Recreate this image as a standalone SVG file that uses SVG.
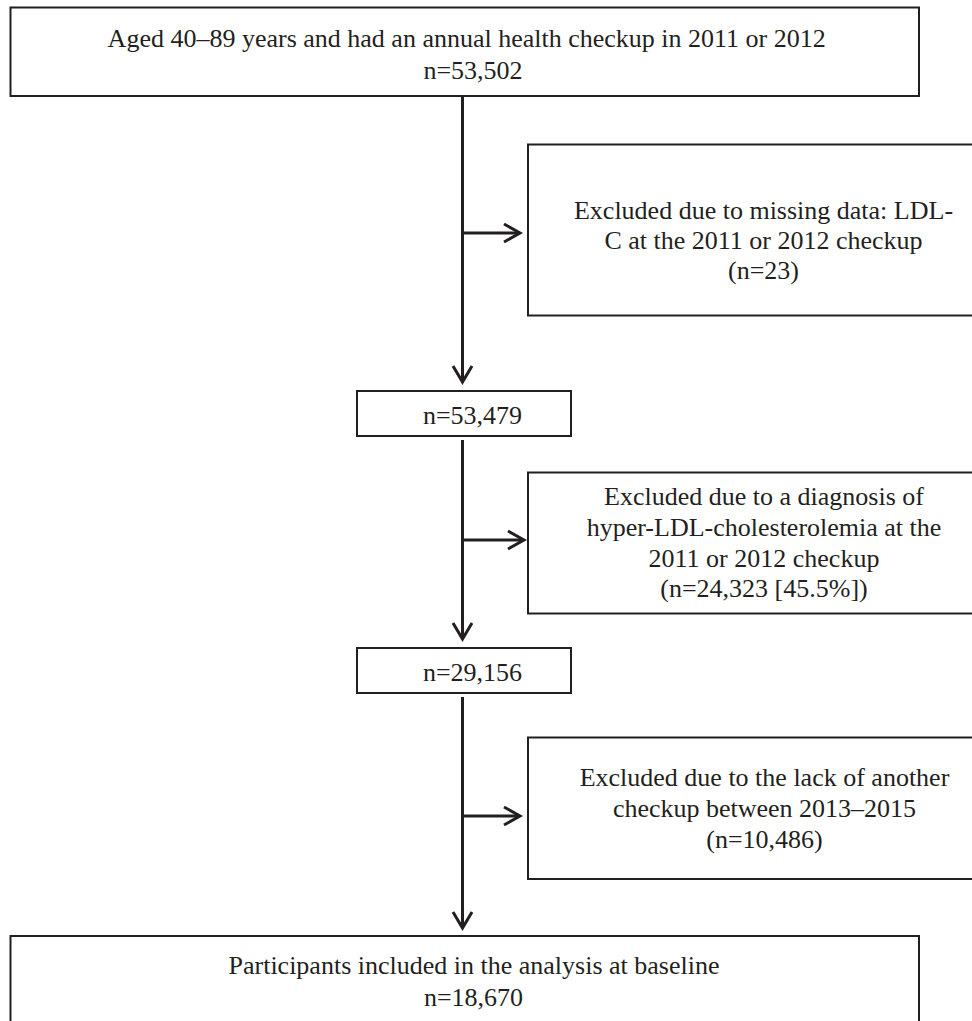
<svg xmlns="http://www.w3.org/2000/svg" width="972" height="1021" viewBox="0 0 972 1021">
<style>
.box{fill:#fff;stroke:#231f20;stroke-width:2}
.t{font-family:"Liberation Serif","Times New Roman",serif;font-size:26px;fill:#231f20;text-anchor:middle}
.ln{fill:none;stroke:#231f20;stroke-width:3}
.ah{fill:none;stroke:#231f20;stroke-width:3;stroke-linejoin:miter}
</style>
<rect width="972" height="1021" fill="#fff"/>
<g id="connectors">
<line class="ln" x1="462.5" y1="96" x2="462.5" y2="382"/>
<polyline class="ah" points="453,366 462.5,382 472,366"/>
<line class="ln" x1="462.5" y1="233" x2="519" y2="233"/>
<polyline class="ah" points="504,224 520,233 504,242"/>
<line class="ln" x1="462.5" y1="440" x2="462.5" y2="639"/>
<polyline class="ah" points="453,623 462.5,639 472,623"/>
<line class="ln" x1="462.5" y1="540" x2="523" y2="540"/>
<polyline class="ah" points="508,531 524,540 508,549"/>
<line class="ln" x1="462.5" y1="697" x2="462.5" y2="928"/>
<polyline class="ah" points="453,912 462.5,928 472,912"/>
<line class="ln" x1="462.5" y1="816" x2="519" y2="816"/>
<polyline class="ah" points="504,807 520,816 504,825"/>
</g>
<g id="start">
<rect class="box" x="10.5" y="7.5" width="908.5" height="88.5"/>
<text class="t" x="466.7" y="47">Aged 40–89 years and had an annual health checkup in 2011 or 2012</text>
<text class="t" x="473" y="79">n=53,502</text>
</g>
<g id="excl1">
<rect class="box" x="528" y="144.5" width="472" height="171"/>
<text class="t" x="763.5" y="218.5">Excluded due to missing data: LDL-</text>
<text class="t" x="763.5" y="249">C at the 2011 or 2012 checkup</text>
<text class="t" x="763.5" y="278.5">(n=23)</text>
</g>
<g id="n1">
<rect class="box" x="357" y="391" width="214" height="45"/>
<text class="t" x="472.5" y="424">n=53,479</text>
</g>
<g id="excl2">
<rect class="box" x="528" y="472.5" width="472" height="141"/>
<text class="t" x="764" y="505">Excluded due to a diagnosis of</text>
<text class="t" x="764" y="536">hyper-LDL-cholesterolemia at the</text>
<text class="t" x="764" y="567">2011 or 2012 checkup</text>
<text class="t" x="764" y="597">(n=24,323 [45.5%])</text>
</g>
<g id="n2">
<rect class="box" x="357" y="648" width="214" height="45"/>
<text class="t" x="472.5" y="681">n=29,156</text>
</g>
<g id="excl3">
<rect class="box" x="528" y="737.5" width="472" height="141.5"/>
<text class="t" x="764.5" y="786">Excluded due to the lack of another</text>
<text class="t" x="764.5" y="817">checkup between 2013–2015</text>
<text class="t" x="764.5" y="848">(n=10,486)</text>
</g>
<g id="final">
<rect class="box" x="10.5" y="936" width="908.5" height="100"/>
<text class="t" x="474" y="974">Participants included in the analysis at baseline</text>
<text class="t" x="473.5" y="1006">n=18,670</text>
</g>
</svg>
